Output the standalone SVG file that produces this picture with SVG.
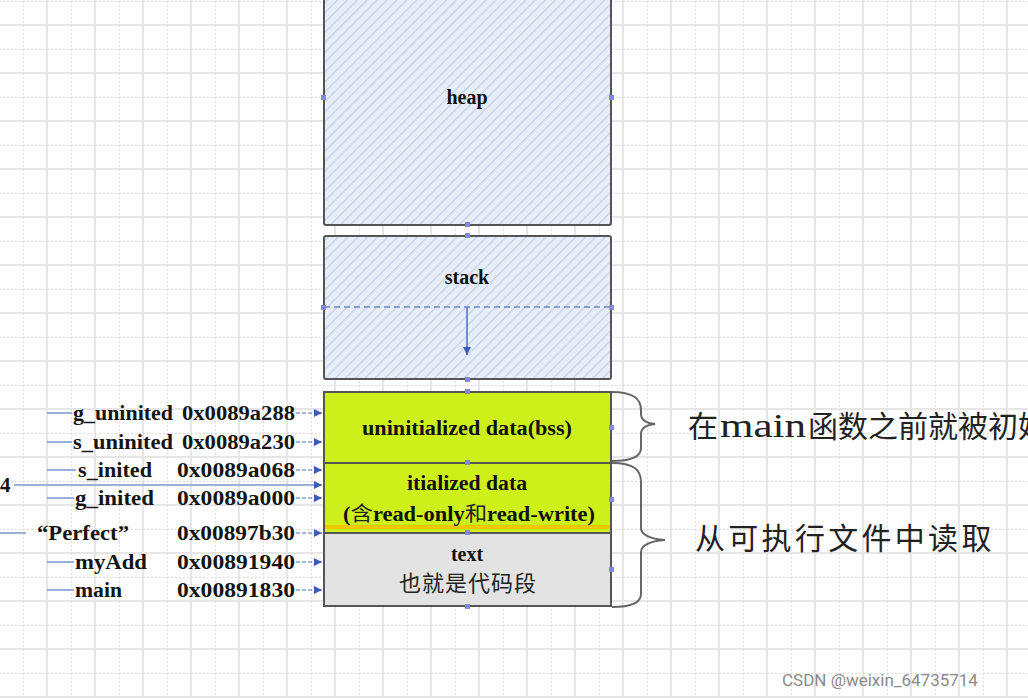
<svg xmlns="http://www.w3.org/2000/svg" width="1028" height="698" viewBox="0 0 1028 698">
<defs>
<pattern id="grid" x="23" y="1" width="48" height="48" patternUnits="userSpaceOnUse">
<line x1="0" y1="0" x2="0" y2="48" stroke="#d4d4d4" stroke-width="1.5" stroke-dasharray="2 2"/>
<line x1="24" y1="0" x2="24" y2="48" stroke="#e6e6e6" stroke-width="2"/>
<line x1="0" y1="0" x2="48" y2="0" stroke="#d4d4d4" stroke-width="1.5" stroke-dasharray="2 2"/>
<line x1="0" y1="24" x2="48" y2="24" stroke="#e6e6e6" stroke-width="2"/>
</pattern>
<pattern id="hatch" width="7" height="7" patternUnits="userSpaceOnUse" patternTransform="rotate(45)">
<rect width="7" height="7" fill="#e8eef8"/>
<line x1="0" y1="0" x2="0" y2="7" stroke="#c2d0e8" stroke-width="2.5"/>
</pattern>
<marker id="ah" viewBox="0 0 8 8" refX="8" refY="4" markerWidth="8" markerHeight="8" markerUnits="userSpaceOnUse" orient="auto">
<path d="M0,0 L8,4 L0,8 z" fill="#3a5fb0"/>
</marker>
<style>
.box{stroke:#555;stroke-width:2}
.lbl{font-family:"Liberation Serif",serif;font-weight:bold;fill:#111}
.lab{font-family:"Liberation Serif",serif;font-weight:bold;font-size:21px;fill:#151515}
.cjk{font-family:"Noto Sans CJK SC",sans-serif;fill:#222}
.in{stroke:#9ab0d8;stroke-width:2;fill:none}
.con{stroke:#4a6fc0;stroke-width:1.2;fill:none;stroke-dasharray:4 2;marker-end:url(#ah)}
.brace{stroke:#666;stroke-width:2;fill:none}
.pt{fill:#8585e8}
</style>
</defs>
<rect width="1028" height="698" fill="#ffffff"/>
<rect width="1028" height="698" fill="url(#grid)"/>

<g id="heap">
<rect class="box" x="324" y="-6" width="287" height="231" rx="2" fill="url(#hatch)"/>
<text class="lbl" x="467" y="104" font-size="20" text-anchor="middle">heap</text>
<rect class="pt" x="321" y="95" width="5" height="5"/>
<rect class="pt" x="609" y="95" width="5" height="5"/>
<rect class="pt" x="465" y="222" width="5" height="5"/>
</g>

<g id="stack">
<rect class="box" x="324" y="236" width="287" height="143" rx="2" fill="url(#hatch)"/>
<text class="lbl" x="467" y="284" font-size="20" text-anchor="middle">stack</text>
<line x1="324" y1="307" x2="611" y2="307" stroke="#7088c8" stroke-width="1.5" stroke-dasharray="6 4"/>
<path d="M467,307 L467,355" stroke="#4a6fc0" stroke-width="1.5" fill="none" marker-end="url(#ah)"/>
<rect class="pt" x="465" y="233" width="5" height="5"/>
<rect class="pt" x="321" y="305" width="5" height="5"/>
<rect class="pt" x="609" y="305" width="5" height="5"/>
<rect class="pt" x="465" y="377" width="5" height="5"/>
</g>

<g id="bss">
<rect class="box" x="324" y="392" width="287" height="71" fill="#cdf01a"/>
<text class="lbl" x="467" y="435" font-size="20" text-anchor="middle" textLength="210" lengthAdjust="spacingAndGlyphs">uninitialized data(bss)</text>
<rect class="pt" x="465" y="389" width="5" height="5"/>
<rect class="pt" x="609" y="425" width="5" height="5"/>
</g>

<g id="data">
<rect class="box" x="324" y="463" width="287" height="70" fill="#cdf01a"/>
<rect x="325" y="525" width="285" height="4" fill="#f0c800"/>
<text class="lbl" x="467" y="490" font-size="20" text-anchor="middle" textLength="120" lengthAdjust="spacingAndGlyphs">itialized data</text>
<text class="lbl" x="469" y="521" font-size="20" text-anchor="middle" textLength="252" lengthAdjust="spacingAndGlyphs">(<tspan class="cjk" font-weight="normal" fill="#1a1a1a">含</tspan>read-only<tspan class="cjk" font-weight="normal" fill="#1a1a1a">和</tspan>read-write)</text>
<rect class="pt" x="465" y="460" width="5" height="5"/>
<rect class="pt" x="609" y="497" width="5" height="5"/>
</g>

<g id="text">
<rect class="box" x="324" y="533" width="287" height="73" fill="#e3e3e3"/>
<text class="lbl" x="467" y="561" font-size="20" text-anchor="middle">text</text>
<text class="cjk" x="468" y="591" font-size="22" text-anchor="middle" letter-spacing="1">也就是代码段</text>
<rect class="pt" x="465" y="530" width="5" height="5"/>
<rect class="pt" x="609" y="567" width="5" height="5"/>
<rect class="pt" x="465" y="604" width="5" height="5"/>
</g>

<g id="labels">
<text class="lab" x="73" y="420" textLength="100" lengthAdjust="spacingAndGlyphs">g_uninited</text>
<text class="lab" x="182" y="420" textLength="113" lengthAdjust="spacingAndGlyphs">0x0089a288</text>
<text class="lab" x="73" y="449" textLength="100" lengthAdjust="spacingAndGlyphs">s_uninited</text>
<text class="lab" x="182" y="449" textLength="113" lengthAdjust="spacingAndGlyphs">0x0089a230</text>
<text class="lab" x="78" y="477" textLength="74" lengthAdjust="spacingAndGlyphs">s_inited</text>
<text class="lab" x="177" y="477" textLength="118" lengthAdjust="spacingAndGlyphs">0x0089a068</text>
<text class="lab" x="0" y="492">4</text>
<text class="lab" x="75" y="505" textLength="79" lengthAdjust="spacingAndGlyphs">g_inited</text>
<text class="lab" x="177" y="505" textLength="118" lengthAdjust="spacingAndGlyphs">0x0089a000</text>
<text class="lab" x="37" y="540" textLength="92" lengthAdjust="spacingAndGlyphs">“Perfect”</text>
<text class="lab" x="177" y="540" textLength="118" lengthAdjust="spacingAndGlyphs">0x00897b30</text>
<text class="lab" x="75" y="569" textLength="72" lengthAdjust="spacingAndGlyphs">myAdd</text>
<text class="lab" x="177" y="569" textLength="118" lengthAdjust="spacingAndGlyphs">0x00891940</text>
<text class="lab" x="75" y="597" textLength="47" lengthAdjust="spacingAndGlyphs">main</text>
<text class="lab" x="177" y="597" textLength="118" lengthAdjust="spacingAndGlyphs">0x00891830</text>
</g>

<g id="notes">
<text class="cjk" x="688" y="437" font-size="30">在</text>
<text x="720" y="437" font-family="Liberation Serif, serif" font-size="33" fill="#222" textLength="86" lengthAdjust="spacingAndGlyphs">main</text>
<text class="cjk" x="808" y="437" font-size="30">函数之前就被初始化</text>
<text class="cjk" x="695" y="549" font-size="30" letter-spacing="3.3">从可执行文件中读取</text>
</g>

<g id="connectors">
<line class="in" x1="47" y1="413" x2="72" y2="413"/>
<line class="in" x1="47" y1="442" x2="72" y2="442"/>
<line class="in" x1="47" y1="470" x2="76" y2="470"/>
<line class="in" x1="47" y1="498" x2="74" y2="498"/>
<line class="in" x1="0" y1="533" x2="26" y2="533"/>
<line class="in" x1="47" y1="562" x2="74" y2="562"/>
<line class="in" x1="47" y1="590" x2="74" y2="590"/>
<line class="in" x1="14" y1="485" x2="318" y2="485" stroke="#8aa2d2"/>
<path d="M318,485 L322,485" stroke="#4a6fc0" stroke-width="1.2" marker-end="url(#ah)"/>
<line class="con" x1="296" y1="413" x2="322" y2="413"/>
<line class="con" x1="296" y1="442" x2="322" y2="442"/>
<line class="con" x1="296" y1="470" x2="322" y2="470"/>
<line class="con" x1="296" y1="498" x2="322" y2="498"/>
<line class="con" x1="296" y1="533" x2="322" y2="533"/>
<line class="con" x1="296" y1="562" x2="322" y2="562"/>
<line class="con" x1="296" y1="590" x2="322" y2="590"/>
<path class="brace" d="M612,392 C634,392 641,399 641,410 L641,414 C641,420 646,423 655,424 C646,425 641,428 641,434 L641,448 C641,456 634,461 612,461"/>
<path class="brace" d="M612,463 C634,463 641,470 641,482 L641,528 C641,534 649,539 665,540 C649,541 641,546 641,552 L641,594 C641,602 634,607 612,607"/>
</g>

<text x="782" y="686" font-family="Roboto, 'Liberation Sans', sans-serif" font-size="17" fill="#8a8a8a" stroke="#ffffff" stroke-width="0.5" paint-order="stroke">CSDN @weixin_64735714</text>
</svg>
